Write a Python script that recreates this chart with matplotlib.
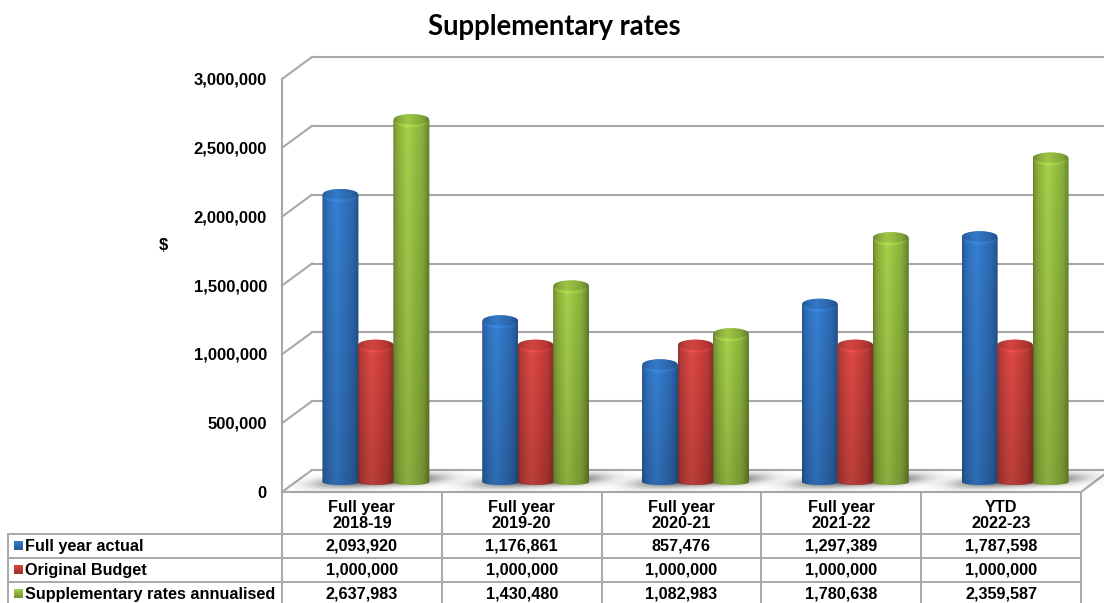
import numpy as np
import matplotlib
matplotlib.use('Agg')
import matplotlib.pyplot as plt
from matplotlib.colors import to_rgb
from matplotlib.patches import PathPatch
from matplotlib.path import Path

categories = ['Full year\n2018-19', 'Full year\n2019-20', 'Full year\n2020-21', 'Full year\n2021-22', 'YTD\n2022-23']
series_names = ['Full year actual', 'Original Budget', 'Supplementary rates annualised']
full_year_actual = [2093920, 1176861, 857476, 1297389, 1787598]
original_budget = [1000000, 1000000, 1000000, 1000000, 1000000]
supplementary = [2637983, 1430480, 1082983, 1780638, 2359587]
y_ticks = [0, 500000, 1000000, 1500000, 2000000, 2500000, 3000000]

series = [full_year_actual, original_budget, supplementary]
# edge, mid, highlight
palette = [('#234f88', '#2f6db8', '#3680d2'),
           ('#8a2c2c', '#c43c38', '#de4a45'),
           ('#5e7a28', '#8fb53e', '#a6d04a')]
GRID = '#a8a8a8'
TXT = '#000000'

W, H = 1104, 603
fig = plt.figure(figsize=(W / 100, H / 100), dpi=100)
plt.rcParams['font.family'] = ['Liberation Sans', 'DejaVu Sans']

# frame axes in pixels for the table and labels
fr = fig.add_axes([0, 0, 1, 1], zorder=1)
fr.set_xlim(0, W)
fr.set_ylim(H, 0)
fr.axis('off')

# value axes: front plane of the 3d box
left, right, y0, y3m = 282, 1081, 492, 79
ax = fig.add_axes([left / W, 1 - y0 / H, (right - left) / W, (y0 - y3m) / H], zorder=2)
ax.axis('off')
ax.patch.set_alpha(0)

px_x = 5.0 / (right - left)
px_y = 3000000.0 / (y0 - y3m)
depth_x, depth_y = 30 * px_x, 22 * px_y

# walls and gridlines
for v in y_ticks:
    ax.plot([-0.5, -0.5 + depth_x], [v, v + depth_y], color=GRID, lw=1.5, clip_on=False, zorder=1)
    ax.plot([-0.5 + depth_x, 4.5 + 24 * px_x], [v + depth_y, v + depth_y], color=GRID, lw=1.5, clip_on=False, zorder=1)
ax.plot([-0.5, -0.5], [0, 3000000], color=GRID, lw=1.5, clip_on=False, zorder=1)
ax.plot([-0.5, 4.5], [0, 0], color=GRID, lw=1.5, clip_on=False, zorder=1)
ax.plot([4.5, 4.5 + 24 * px_x], [0, 18 * px_y], color=GRID, lw=1.5, clip_on=False, zorder=1)

bar_w = 36 * px_x
cap_h = 13 * px_y
foot_h = 6 * px_y
foot_y = 10 * px_y
base = 8 * px_y
group_off = 14 * px_x


def shade(cols, n=64):
    e, m, h = [np.array(to_rgb(c)) for c in cols]
    out = np.zeros((1, n, 3))
    for i, s in enumerate(np.linspace(0, 1, n)):
        if s < 0.4:
            out[0, i] = e + (h - e) * (s / 0.4) ** 0.45
        elif s < 0.72:
            out[0, i] = h + (m - h) * (s - 0.4) / 0.32
        else:
            out[0, i] = m + (e - m) * ((s - 0.72) / 0.28) ** 1.6
    return out


def clipped(img, extent, verts, z):
    im = ax.imshow(img, extent=extent, aspect='auto', zorder=z, interpolation='bilinear')
    im.set_clip_path(PathPatch(Path(np.vstack([verts, verts[0]])), transform=ax.transData))
    return im


def ellipse_pts(cx, cy, w, h):
    t = np.linspace(0, 2 * np.pi, 60)
    return np.column_stack([cx + w / 2 * np.cos(t), cy + h / 2 * np.sin(t)])


def cylinder(cx, value, cols, z):
    x0, x1 = cx - bar_w / 2, cx + bar_w / 2
    top = value + base
    th = np.linspace(np.pi, 2 * np.pi, 40)
    body = np.column_stack([np.r_[cx + bar_w / 2 * np.cos(th), x1, x0],
                            np.r_[foot_y + foot_h / 2 * np.sin(th), top, top]])
    # body darkens towards the floor
    sh = shade(cols)
    fade = np.linspace(1.0, 0.84, 40)[:, None, None]
    img = np.clip(np.repeat(sh, 40, axis=0) * fade, 0, 1)
    clipped(img, [x0, x1, 0, top], body, z)
    # cap: paler rim along the front edge, flat face above it
    clipped(np.clip(sh * 1.08, 0, 1), [x0, x1, top - cap_h, top + cap_h],
            ellipse_pts(cx, top, bar_w, cap_h), z + 0.1)
    clipped(np.clip(sh * 0.95, 0, 1), [x0, x1, top - cap_h, top + cap_h],
            ellipse_pts(cx, top + 0.12 * cap_h, bar_w * 0.98, cap_h * 0.80), z + 0.2)


def floor_shadow(cx):
    x = np.linspace(cx - 90 * px_x, cx + 100 * px_x, 200)
    y = np.linspace(-6 * px_y, 26 * px_y, 60)
    xx, yy = np.meshgrid(x, y)
    dx = (xx - (cx + 4 * px_x)) / (64 * px_x)
    # shadow slants up to the right across the floor
    dy = (yy - 11 * px_y - (xx - cx) / px_x * 0.05 * px_y) / (5.5 * px_y)
    a = np.exp(-np.abs(dx) ** 3.5 - dy ** 2) * 0.78
    rgba = np.zeros(a.shape + (4,))
    rgba[..., :3] = 0.25
    rgba[..., 3] = a
    im = ax.imshow(rgba, extent=[x[0], x[-1], y[0], y[-1]], origin='lower', aspect='auto', zorder=1.5)
    im.set_clip_on(False)


for i in range(len(categories)):
    cx = i + group_off
    floor_shadow(cx)
    for j, vals in enumerate(series):
        cylinder(cx + (j - 1) * bar_w * 0.985, vals[i], palette[j], 2 + j)

ax.set_xlim(-0.5, 4.5)
ax.set_ylim(0, 3000000)

# tick labels
for v in y_ticks:
    fr.text(267, y0 - v / px_y + 1, f'{v:,}', ha='right', va='center', fontsize=12, fontweight='bold', color=TXT)
fr.text(163, 246, '$', ha='center', va='center', fontsize=12, fontweight='bold', color=TXT)
fr.text(554, 27, 'Supplementary rates', ha='center', va='center', fontsize=19.8, fontweight='bold',
        family=['Lato', 'DejaVu Sans'], color=TXT)

# data table
col_w = (right - left) / 5
rows_y = [534, 558, 582, 606]
for k in range(6):
    fr.plot([left + k * col_w] * 2, [y0, H + 3], color=GRID, lw=1.4, solid_capstyle='butt')
fr.plot([8, 8], [rows_y[0], H + 3], color=GRID, lw=1.4)
for y in rows_y[:-1]:
    fr.plot([8, right], [y, y], color=GRID, lw=1.4)

for i, c in enumerate(categories):
    fr.text(left + (i + 0.5) * col_w, 515.5, c, ha='center', va='center', fontsize=11.7, fontweight='bold',
            linespacing=1.05, color=TXT)
for j, name in enumerate(series_names):
    yc = (rows_y[j] + rows_y[j + 1]) / 2
    swatch = np.linspace(1.12, 0.82, 9)[:, None, None] * np.array(to_rgb(palette[j][1]))[None, None, :]
    fr.imshow(np.clip(swatch, 0, 1), extent=[13.5, 22.5, yc + 4.5, yc - 4.5], aspect='auto', zorder=3)
    fr.text(25, yc, name, ha='left', va='center', fontsize=11.7, fontweight='bold', color=TXT)
    for i, v in enumerate(series[j]):
        fr.text(left + (i + 0.5) * col_w, yc, f'{v:,}', ha='center', va='center', fontsize=11.7,
                fontweight='bold', color=TXT)
fr.set_xlim(0, W)
fr.set_ylim(H, 0)

fig.savefig('out.png', dpi=100, facecolor='white')
